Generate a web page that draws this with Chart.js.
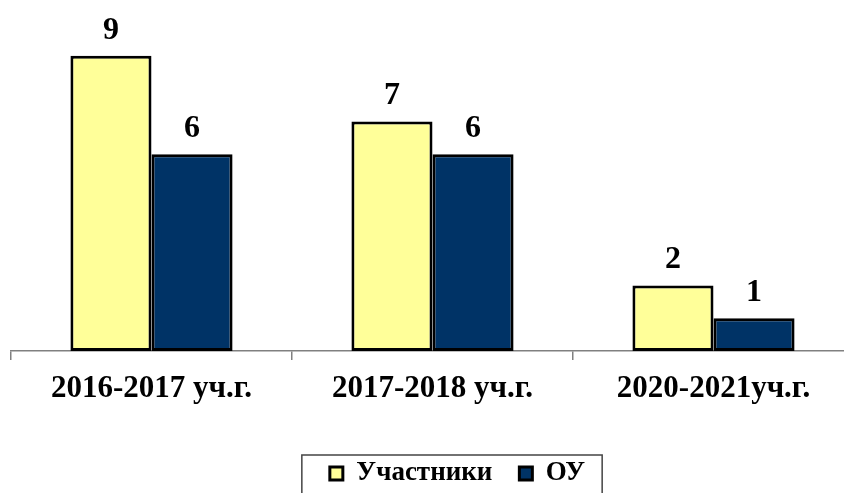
<!DOCTYPE html>
<html>
<head>
<meta charset="utf-8">
<script src="https://cdn.jsdelivr.net/npm/chart.js@4/dist/chart.umd.min.js"></script>
<style>
  html, body { margin: 0; padding: 0; background: #fff; overflow: hidden; }
  #wrap { width: 865px; height: 493px; }
</style>
</head>
<body>
<div id="wrap"><canvas id="c" width="865" height="493"></canvas></div>
<script>
const categories = ["2016-2017 уч.г.", "2017-2018 уч.г.", "2020-2021уч.г."];
const seriesNames = ["Участники", "ОУ"];
const participants = [9, 7, 2];
const schools = [6, 6, 1];

const FONT = '"Liberation Serif", "Times New Roman", serif';

const valueLabels = {
  id: 'valueLabels',
  afterDatasetsDraw(chart) {
    const ctx = chart.ctx;
    ctx.save();
    ctx.font = 'bold 32px ' + FONT;
    ctx.fillStyle = '#000';
    ctx.textAlign = 'center';
    ctx.textBaseline = 'alphabetic';
    chart.data.datasets.forEach((ds, di) => {
      const meta = chart.getDatasetMeta(di);
      meta.data.forEach((el, i) => {
        ctx.fillText(String(ds.data[i]), el.x, el.y - 17);
      });
    });
    ctx.restore();
  }
};

const legendShift = {
  id: 'legendShift',
  afterLayout(chart) {
    const lg = chart.legend;
    if (!lg) return;
    lg.left += 25; lg.right += 25;
    lg.top += 4; lg.bottom += 4;
  }
};

const legendFrame = {
  id: 'legendFrame',
  afterDraw(chart) {
    const lg = chart.legend;
    if (!lg || !lg.legendHitBoxes || !lg.legendHitBoxes.length) return;
    const hb = lg.legendHitBoxes;
    const first = hb[0], last = hb[hb.length - 1];
    const left = first.left - 28;
    const right = last.left + last.width + 17;
    const top = first.top - 5;
    const ctx = chart.ctx;
    ctx.save();
    ctx.strokeStyle = '#444';
    ctx.lineWidth = 1.5;
    ctx.beginPath();
    ctx.moveTo(left, chart.height + 5);
    ctx.lineTo(left, top);
    ctx.lineTo(right, top);
    ctx.lineTo(right, chart.height + 5);
    ctx.stroke();
    ctx.restore();
  }
};

new Chart(document.getElementById('c'), {
  type: 'bar',
  data: {
    labels: categories,
    datasets: [
      { label: seriesNames[0], data: participants, backgroundColor: '#FFFF99', borderColor: '#000', borderWidth: 3, borderSkipped: false },
      { label: seriesNames[1], data: schools, backgroundColor: '#003366', borderColor: '#000', borderWidth: 3, borderSkipped: false }
    ]
  },
  options: {
    responsive: false,
    animation: false,
    devicePixelRatio: 1,
    layout: { padding: { left: 11, right: 11, top: 23, bottom: 0 } },
    datasets: { bar: { categoryPercentage: 0.577, barPercentage: 1.0 } },
    scales: {
      x: {
        grid: { display: true, drawOnChartArea: false, drawTicks: true, tickLength: 9, color: '#808080', lineWidth: 1.5, offset: true },
        border: { display: true, color: '#808080', width: 1.5 },
        ticks: { color: '#000', font: { family: FONT, size: 31, weight: 'bold' }, padding: 10, maxRotation: 0, autoSkip: false },
        afterFit(scale) { scale.height = 78; }
      },
      y: {
        display: false,
        min: 0,
        max: 10
      }
    },
    plugins: {
      legend: {
        position: 'bottom',
        labels: {
          color: '#000',
          font: { family: FONT, size: 27, weight: 'bold' },
          boxWidth: 13,
          boxHeight: 13,
          padding: 27
        }
      },
      tooltip: { enabled: false }
    }
  },
  plugins: [legendShift, valueLabels, legendFrame]
});
</script>
</body>
</html>
